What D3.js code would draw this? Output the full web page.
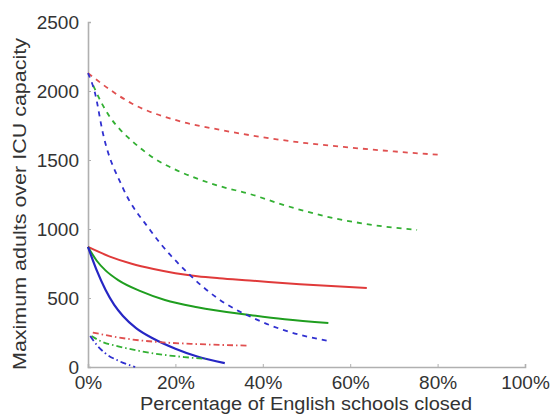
<!DOCTYPE html>
<html><head><meta charset="utf-8">
<script src="https://cdn.jsdelivr.net/npm/d3@7"></script>
<style>body{margin:0;background:#fff}svg{display:block}</style>
</head><body>
<svg id="c" width="556" height="414"></svg>
<script>
// Data (percentage closed, adults over ICU capacity)
const yTicks = [0, 500, 1000, 1500, 2000, 2500];
const xTicks = [0, 20, 40, 60, 80, 100];
const redSolidX   = [0, 5, 10, 15, 20, 25, 30, 37, 48.5, 63.8];
const redSolidY   = [870, 800, 748, 710, 680, 658, 643, 627, 600, 572];
const greenSolidX = [0, 2, 4, 7, 12, 17.6, 25, 37, 45, 55];
const greenSolidY = [870, 770, 700, 628, 550, 486, 433, 377, 346, 319];
const blueSolidX  = [0, 2, 4, 6, 8, 11, 15, 20, 25, 31.3];
const blueSolidY  = [870, 700, 560, 450, 370, 282, 205, 133, 76, 28];
const redDashX    = [0, 5, 10, 20, 30, 40, 50, 60, 70, 81];
const redDashY    = [2130, 2010, 1910, 1790, 1720, 1665, 1622, 1590, 1562, 1536];
const greenDashX  = [1.2, 3, 5, 7.5, 10, 15, 20, 25, 30, 37, 45, 56, 65, 75.3];
const greenDashY  = [2040, 1920, 1812, 1715, 1640, 1515, 1430, 1365, 1312, 1254, 1172, 1080, 1030, 993];
const blueDashX   = [0, 1.6, 3.4, 8, 14.2, 23.3, 30, 37.8, 45, 55];
const blueDashY   = [2130, 1985, 1696, 1297, 993, 667, 490, 355, 265, 188];
const redDotX     = [1.1, 5, 10, 16.5, 25, 36.3];
const redDotY     = [250, 225, 200, 180, 166, 155];
const greenDotX   = [0.8, 3, 6.9, 12, 17.6, 22, 27];
const greenDotY   = [225, 185, 150, 115, 87, 72, 58];
const blueDotX    = [0.5, 2, 3.9, 7, 10.8];
const blueDotY    = [225, 160, 101, 45, 0];

const FONT = "'Liberation Sans', Arial, sans-serif";
const svg = d3.select("#c");
const x = d3.scaleLinear().domain([0, 100]).range([88, 525]);
const y = d3.scaleLinear().domain([0, 2500]).range([367, 22]);

// axes
const axisColor = "#b0b0b0";
const xa = svg.append("g").attr("transform", "translate(0,367)")
  .call(d3.axisBottom(x).tickValues(xTicks).tickSize(-3).tickPadding(9).tickFormat(d => d + "%"));
const ya = svg.append("g").attr("transform", "translate(88,0)")
  .call(d3.axisLeft(y).tickValues(yTicks).tickSize(-3).tickPadding(9).tickFormat(d3.format("d")));
[xa, ya].forEach(a => {
  a.select(".domain").attr("stroke", axisColor).attr("stroke-width", 1.6);
  a.selectAll(".tick line").attr("stroke", axisColor);
  a.selectAll("text").attr("fill", "#333").style("font-family", FONT).style("font-size", "19px");
});

const line = d3.line().x(d => x(d[0])).y(d => y(d[1])).curve(d3.curveMonotoneX);
const series = [
  [redSolidX, redSolidY, "#e03a3a", null, 2],
  [greenSolidX, greenSolidY, "#1f9e1f", null, 2],
  [blueSolidX, blueSolidY, "#2626c4", null, 2.2],
  [redDashX, redDashY, "#e05050", "5,5", 1.8],
  [greenDashX, greenDashY, "#33b033", "5,5", 1.8],
  [blueDashX, blueDashY, "#3030d0", "5,5", 1.8],
  [redDotX, redDotY, "#e05050", "6,3,1.5,3", 1.8],
  [greenDotX, greenDotY, "#33b033", "6,3,1.5,3", 1.8],
  [blueDotX, blueDotY, "#3030d0", "6,3,1.5,3", 1.8],
];
series.forEach(([xs, ys, col, dash, w]) => {
  svg.append("path").datum(xs.map((v, i) => [v, ys[i]]))
    .attr("d", line).attr("fill", "none").attr("stroke", col)
    .attr("stroke-width", w).attr("stroke-dasharray", dash);
});

// axis titles
svg.append("text").attr("x", 306).attr("y", 410).attr("text-anchor", "middle")
  .attr("fill", "#333").style("font-family", FONT).style("font-size", "18px")
  .attr("textLength", 332).attr("lengthAdjust", "spacingAndGlyphs")
  .text("Percentage of English schools closed");
svg.append("text").attr("transform", "translate(26,204) rotate(-90)").attr("text-anchor", "middle")
  .attr("fill", "#333").style("font-family", FONT).style("font-size", "18px")
  .attr("textLength", 332).attr("lengthAdjust", "spacingAndGlyphs")
  .text("Maximum adults over ICU capacity");
</script>
</body></html>
